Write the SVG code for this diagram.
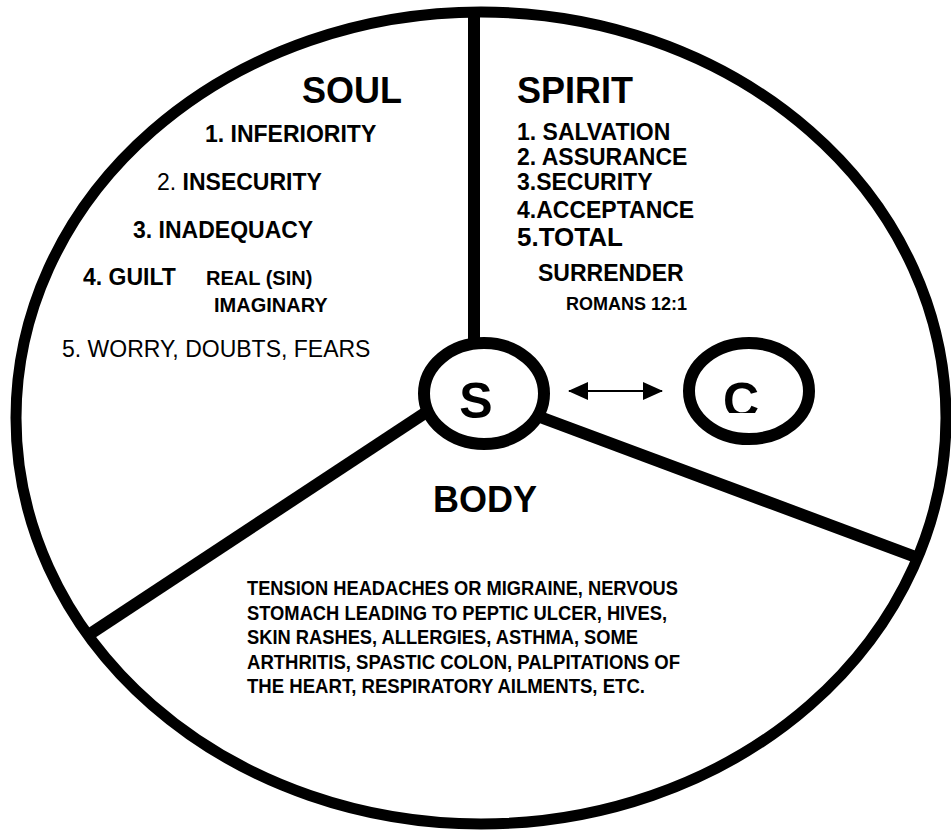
<svg xmlns="http://www.w3.org/2000/svg" width="951" height="830" viewBox="0 0 951 830">
<style>
text{font-family:"Liberation Sans",Arial,sans-serif;fill:#000}
.b{font-weight:bold}
.h{font-size:36px;font-weight:bold}
.i{font-size:23px}
.s{font-size:20px;font-weight:bold}
.ln{stroke:#000;fill:none;stroke-width:12}
</style>
<defs>
<marker id="ah" viewBox="0 0 20 18" refX="19" refY="9" markerWidth="20" markerHeight="18" markerUnits="userSpaceOnUse" orient="auto-start-reverse">
<path d="M0,0 L20,9 L0,18 Z" fill="#000"/>
</marker>
<clipPath id="cclip"><rect x="700" y="360" width="80" height="53"/></clipPath>
</defs>
<rect width="951" height="830" fill="#fff"/>
<g id="outline">
<ellipse cx="481" cy="418" rx="465" ry="406" fill="#fff" stroke="#000" stroke-width="11"/>
</g>
<g id="connectors">
<line class="ln" x1="474" y1="12" x2="474" y2="340" stroke-width="13"/>
<line class="ln" x1="425" y1="413" x2="90" y2="634"/>
<line class="ln" x1="540" y1="417" x2="921" y2="559"/>
<line x1="569" y1="391" x2="662" y2="391" stroke="#000" stroke-width="2" marker-start="url(#ah)" marker-end="url(#ah)"/>
</g>
<g id="soul">
<text class="h" x="302" y="103">SOUL</text>
<text class="i b" x="205" y="142">1. INFERIORITY</text>
<text class="i" x="157" y="190">2. <tspan class="b">INSECURITY</tspan></text>
<text class="i b" x="133" y="238">3. INADEQUACY</text>
<text class="i b" x="83" y="285">4. GUILT</text>
<text class="s" x="206" y="285">REAL (SIN)</text>
<text class="s" x="214" y="312">IMAGINARY</text>
<text class="i" x="62" y="357">5. WORRY, DOUBTS, FEARS</text>
</g>
<g id="spirit">
<text class="h" x="517" y="103">SPIRIT</text>
<text class="i b" x="517" y="140">1. SALVATION</text>
<text class="i b" x="517" y="165">2. ASSURANCE</text>
<text class="i b" x="517" y="190">3.SECURITY</text>
<text class="i b" x="517" y="218">4.ACCEPTANCE</text>
<text class="b" style="font-size:26px" x="517" y="246">5.TOTAL</text>
<text class="b" style="font-size:23px" x="538" y="281">SURRENDER</text>
<text class="b" style="font-size:18px" x="566" y="310">ROMANS 12:1</text>
</g>
<g id="self">
<ellipse cx="484" cy="393.5" rx="60" ry="50.5" fill="#fff" stroke="#000" stroke-width="12"/>
<text class="b" style="font-size:50px" x="476" y="418" text-anchor="middle">S</text>
</g>
<g id="christ">
<ellipse cx="749" cy="391" rx="60" ry="48" fill="#fff" stroke="#000" stroke-width="12"/>
<text class="b" style="font-size:50px" x="741" y="418" text-anchor="middle" clip-path="url(#cclip)">C</text>
</g>
<g id="body">
<text class="h" x="433" y="512">BODY</text>
<text class="s" x="247" y="595" textLength="431" lengthAdjust="spacingAndGlyphs">TENSION HEADACHES OR MIGRAINE, NERVOUS</text>
<text class="s" x="247" y="619.5" textLength="420" lengthAdjust="spacingAndGlyphs">STOMACH LEADING TO PEPTIC ULCER, HIVES,</text>
<text class="s" x="247" y="644" textLength="391" lengthAdjust="spacingAndGlyphs">SKIN RASHES, ALLERGIES, ASTHMA, SOME</text>
<text class="s" x="247" y="668.5" textLength="433" lengthAdjust="spacingAndGlyphs">ARTHRITIS, SPASTIC COLON, PALPITATIONS OF</text>
<text class="s" x="247" y="693" textLength="398" lengthAdjust="spacingAndGlyphs">THE HEART, RESPIRATORY AILMENTS, ETC.</text>
</g>
</svg>
